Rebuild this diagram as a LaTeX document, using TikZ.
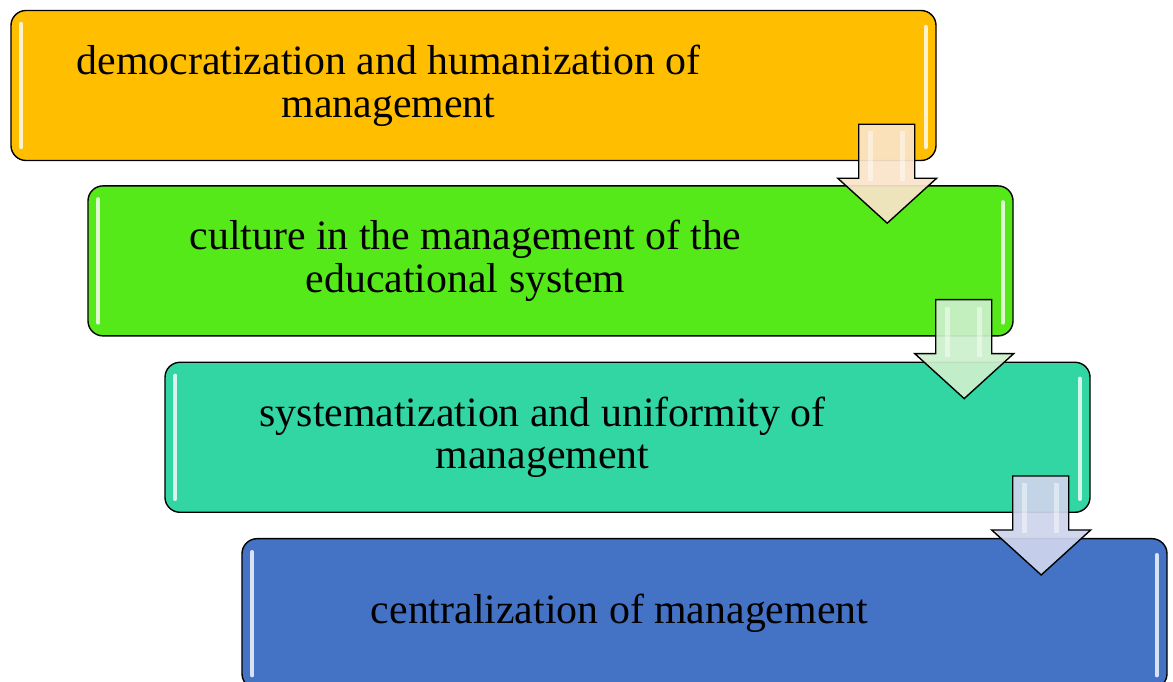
\documentclass[tikz,border=0pt]{standalone}
\usepackage{fontspec}
\setmainfont{Liberation Serif}
\usetikzlibrary{positioning}

\definecolor{stageA}{RGB}{255,191,0}
\definecolor{stageB}{RGB}{86,233,26}
\definecolor{stageC}{RGB}{50,214,162}
\definecolor{stageD}{RGB}{68,114,196}
\definecolor{arrowA}{RGB}{250,228,200}
\definecolor{arrowB}{RGB}{204,240,204}
\definecolor{arrowC}{RGB}{206,212,236}

\begin{document}
\begin{tikzpicture}[x=1bp,y=1bp,
  stage/.style={draw=black, line width=1.4pt, rounded corners=15bp,
    minimum width=925bp, minimum height=150bp, inner sep=0pt},
  stagetext/.style={font=\fontsize{42}{43}\selectfont, align=center, inner sep=0pt},
  gloss/.style={white, line width=4bp, line cap=round, opacity=.8},
  downarrow/.style={draw=black, line width=1.4pt, fill opacity=.93},
  shine/.style={white, line width=5bp, opacity=.45}]
  \useasboundingbox (0,0) rectangle (1173,-682);

  % staircase of stages
  \node[stage, fill=stageA] (democr) at (473.5,-85.5) {};
  \node[stage, fill=stageB, below=24bp of democr, xshift=77bp] (culture) {};
  \node[stage, fill=stageC, below=25bp of culture, xshift=77bp] (system) {};
  \node[stage, fill=stageD, below=25bp of system, xshift=77bp] (central) {};

  % glossy edges
  \draw[gloss] ([shift={(11,-14)}]democr.north west) -- ([shift={(11,14)}]democr.south west);
  \draw[gloss] ([shift={(-11,-17)}]democr.north east) -- ([shift={(-11,14)}]democr.south east);
  \draw[gloss] ([shift={(11,-14)}]culture.north west) -- ([shift={(11,14)}]culture.south west);
  \draw[gloss] ([shift={(-11,-17)}]culture.north east) -- ([shift={(-11,14)}]culture.south east);
  \draw[gloss] ([shift={(11,-14)}]system.north west) -- ([shift={(11,14)}]system.south west);
  \draw[gloss] ([shift={(-11,-17)}]system.north east) -- ([shift={(-11,14)}]system.south east);
  \draw[gloss] ([shift={(11,-14)}]central.north west) -- ([shift={(11,14)}]central.south west);
  \draw[gloss] ([shift={(-11,-17)}]central.north east) -- ([shift={(-11,14)}]central.south east);

  \node[stagetext] (democrtext) at ([xshift=-85bp]democr.center)
    {democratization and humanization of\\management};
  \node[stagetext] (culturetext) at ([xshift=-85bp]culture.center)
    {culture in the management of the\\educational system};
  \node[stagetext] (systemtext) at ([xshift=-85bp]system.center)
    {systematization and uniformity of\\management};
  \node[stagetext] (centraltext) at ([xshift=-85bp]central.center)
    {centralization of management};

  % block arrows hanging off each stage corner
  \draw[downarrow, fill=arrowA, shift={(democr.south east)}]
    (-78,37) -- (-22,37) -- (-22,-17) -- (0,-17) -- (-49.5,-62) -- (-99,-17) -- (-78,-17) -- cycle;
  \draw[shine, shift={(democr.south east)}] (-66,30) -- (-66,-20) (-34,30) -- (-34,-20);
  \draw[downarrow, fill=arrowB, shift={(culture.south east)}]
    (-78,37) -- (-22,37) -- (-22,-17) -- (0,-17) -- (-49.5,-62) -- (-99,-17) -- (-78,-17) -- cycle;
  \draw[shine, shift={(culture.south east)}] (-66,30) -- (-66,-20) (-34,30) -- (-34,-20);
  \draw[downarrow, fill=arrowC, shift={(system.south east)}]
    (-78,37) -- (-22,37) -- (-22,-17) -- (0,-17) -- (-49.5,-62) -- (-99,-17) -- (-78,-17) -- cycle;
  \draw[shine, shift={(system.south east)}] (-66,30) -- (-66,-20) (-34,30) -- (-34,-20);
\end{tikzpicture}
\end{document}
